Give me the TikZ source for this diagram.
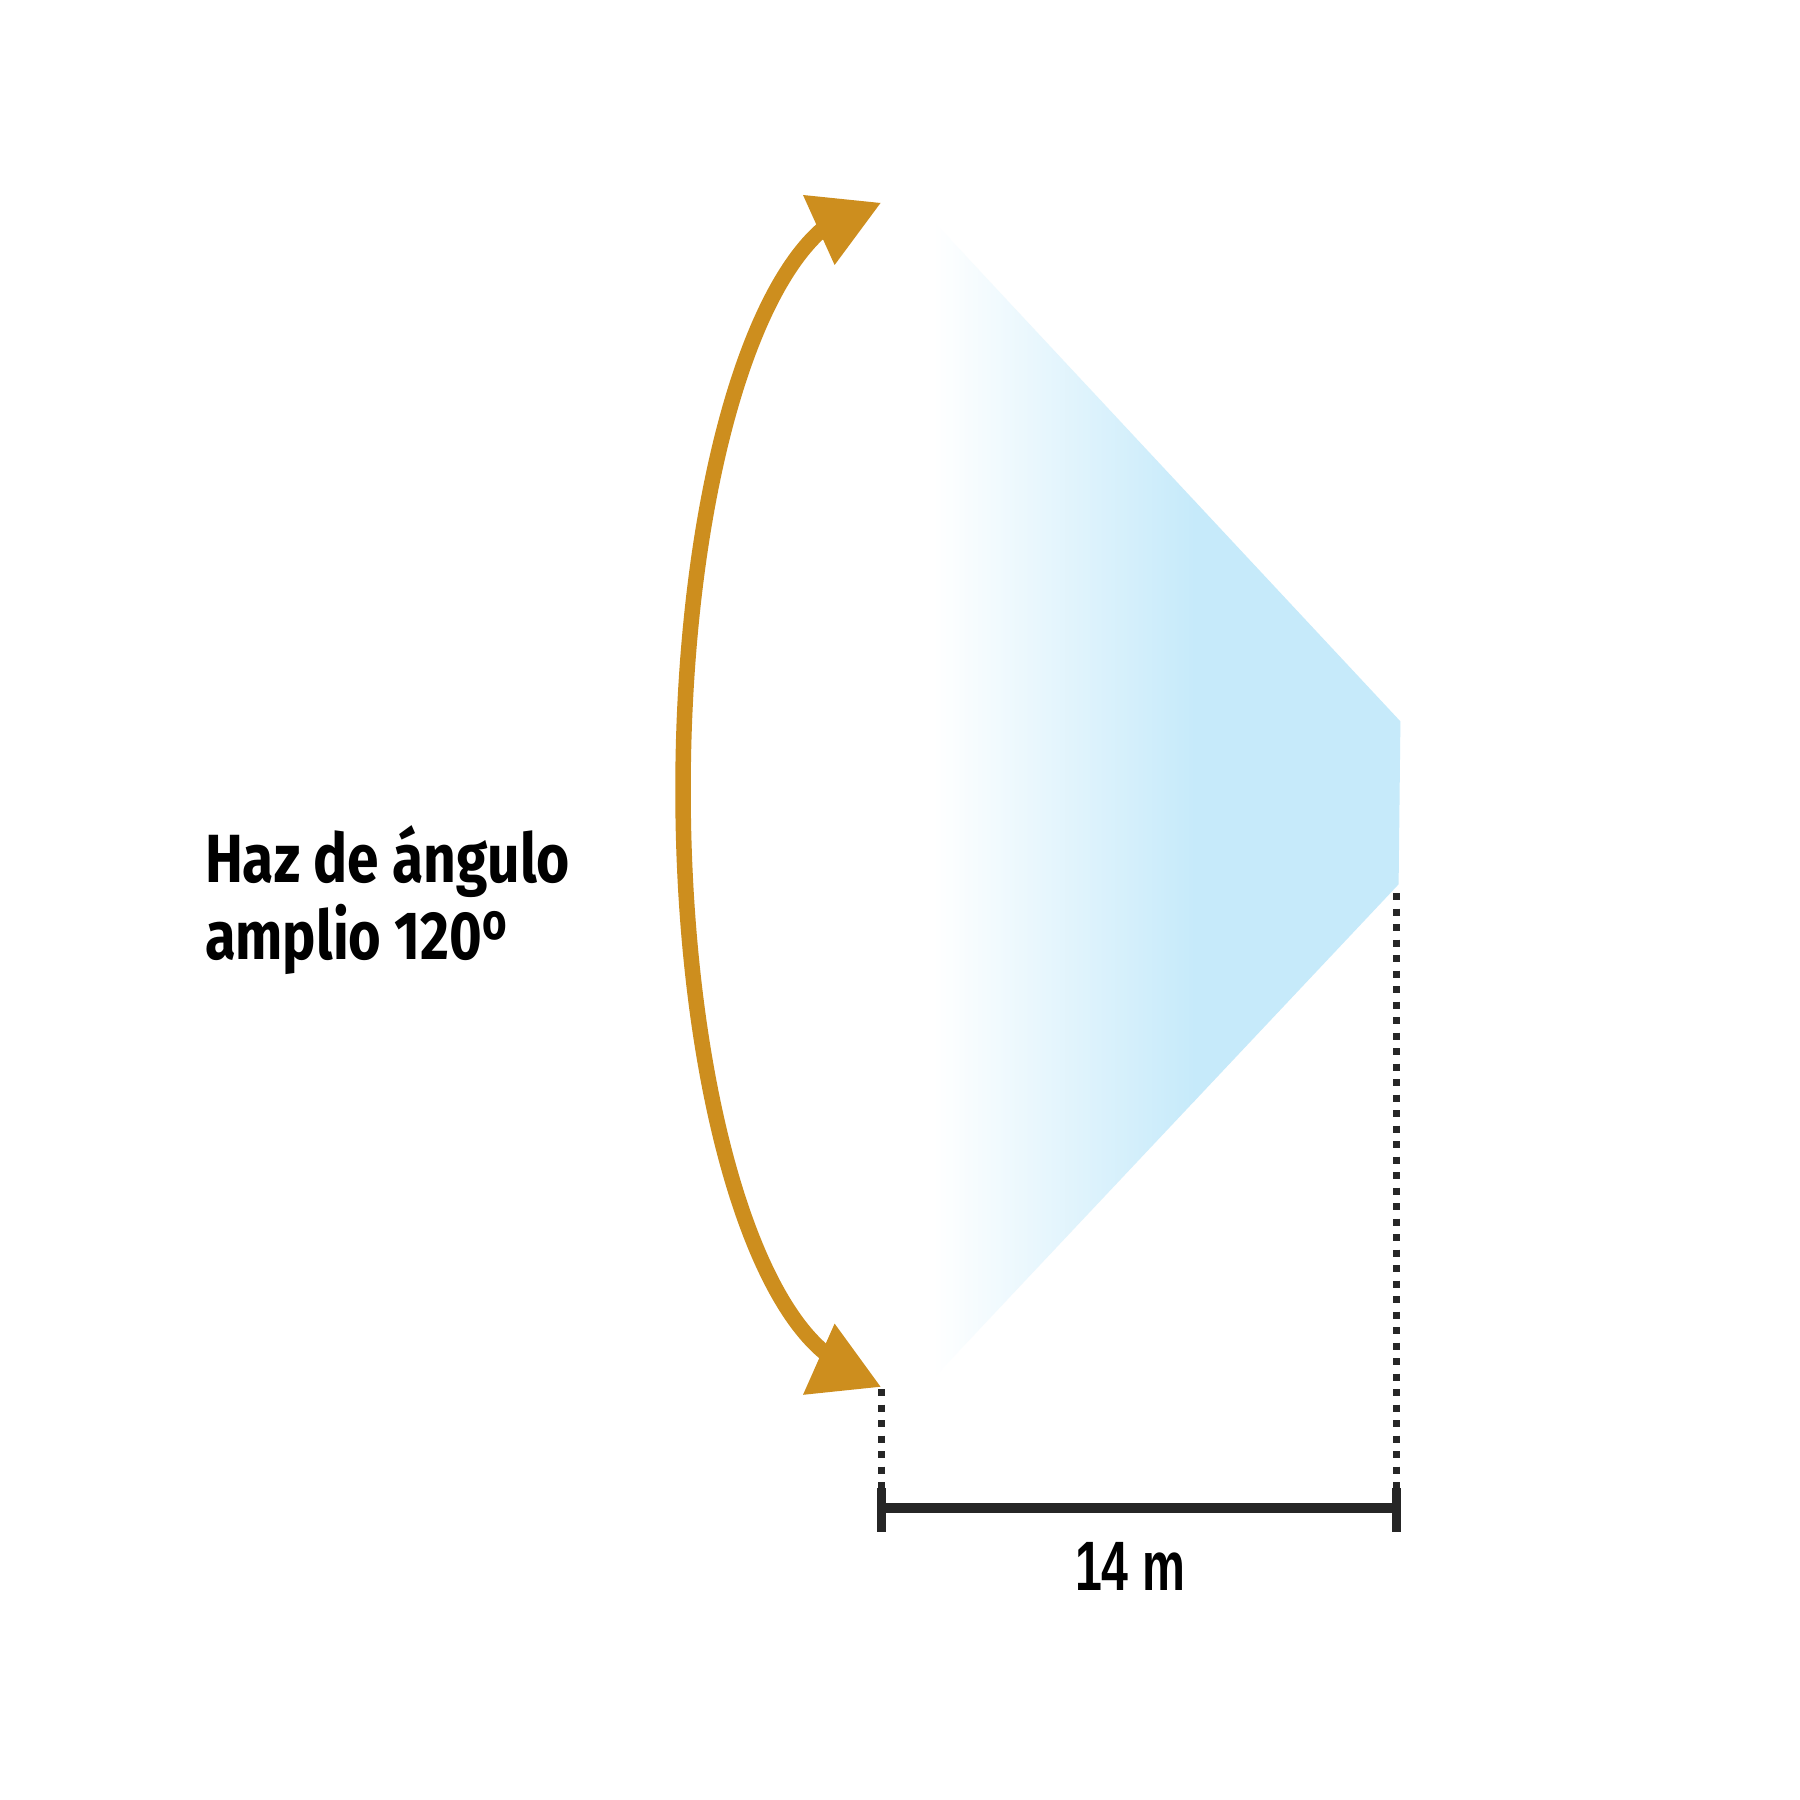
\documentclass[tikz,border=0pt]{standalone}
\usepackage{fontspec}
\usepackage{graphicx}
\setmainfont{Fira Sans}
\newfontfamily\dimfont{Liberation Sans}
\definecolor{arcorange}{HTML}{CD8E1E}
\definecolor{beam}{HTML}{C6EAFA}
\definecolor{dimgray}{HTML}{262626}
\tikzset{
  arcline/.style={arcorange, line width=1.55mm},
  arrowtip/.style={fill=arcorange},
  dimline/.style={dimgray, line width=1mm},
  dimtick/.style={dimgray, line width=0.9mm},
  dotline/.style={dimgray, line width=0.7mm, dash pattern=on 0.7mm off 0.85mm},
  label/.style={anchor=base west, inner sep=0pt, outer sep=0pt},
}
\newcommand{\ordo}{\raisebox{2.0mm}{\fontsize{14.6pt}{16pt}\selectfont\bfseries o}}
\begin{document}
\begin{tikzpicture}[x=0.1mm,y=-0.1mm]
\useasboundingbox[fill=white] (0,0) rectangle (1800,1800);
% beam
\shade[left color=white, right color=beam] (933.6,221.4) -- (1195,501.4) -- (1195,1100.4) -- (933.6,1377.9) -- cycle;
\fill[beam] (1194,500.3) -- (1400.4,721.4) -- (1398.6,884.3) -- (1194,1101.5) -- cycle;
% arc
\draw[arcline] plot[domain=104:256, samples=100, smooth] ({875+192*cos(\x)},{790+583*sin(\x)});
\fill[arrowtip] (803,195) -- (880.5,203) -- (834.6,265) -- cycle;
\fill[arrowtip] (803,1394.8) -- (880.5,1386.7) -- (834.6,1323.6) -- cycle;
% dimension
\coordinate (dl) at (881.5,1508);
\coordinate (dr) at (1396,1508);
\coordinate (dlt) at (881.5,1488);
\coordinate (dlb) at (881.5,1532);
\coordinate (drt) at (1396,1488);
\coordinate (drb) at (1396,1532);
\coordinate (ldot) at (881.5,1389);
\coordinate (rdot) at (1396,893);
\draw[dimline] (dl) -- (dr);
\draw[dimtick] (dlt) -- (dlb);
\draw[dimtick] (drt) -- (drb);
\draw[dotline] (ldot) -- (dlt);
\draw[dotline] (rdot) -- (drt);
% labels
\node[label] (t1) at (205,882) {\resizebox{36.5mm}{\height}{\fontsize{19.4pt}{23pt}\selectfont\bfseries Haz de ángulo}};
\node[label] (t2) at (205,959) {\resizebox{30.2mm}{\height}{\fontsize{19.4pt}{23pt}\selectfont\bfseries amplio 120\ordo}};
\node[anchor=base, inner sep=0pt] (dimtext) at (1130,1590) {\resizebox{11mm}{\height}{\dimfont\fontsize{19.9pt}{23pt}\selectfont\bfseries 14 m}};
\end{tikzpicture}
\end{document}
